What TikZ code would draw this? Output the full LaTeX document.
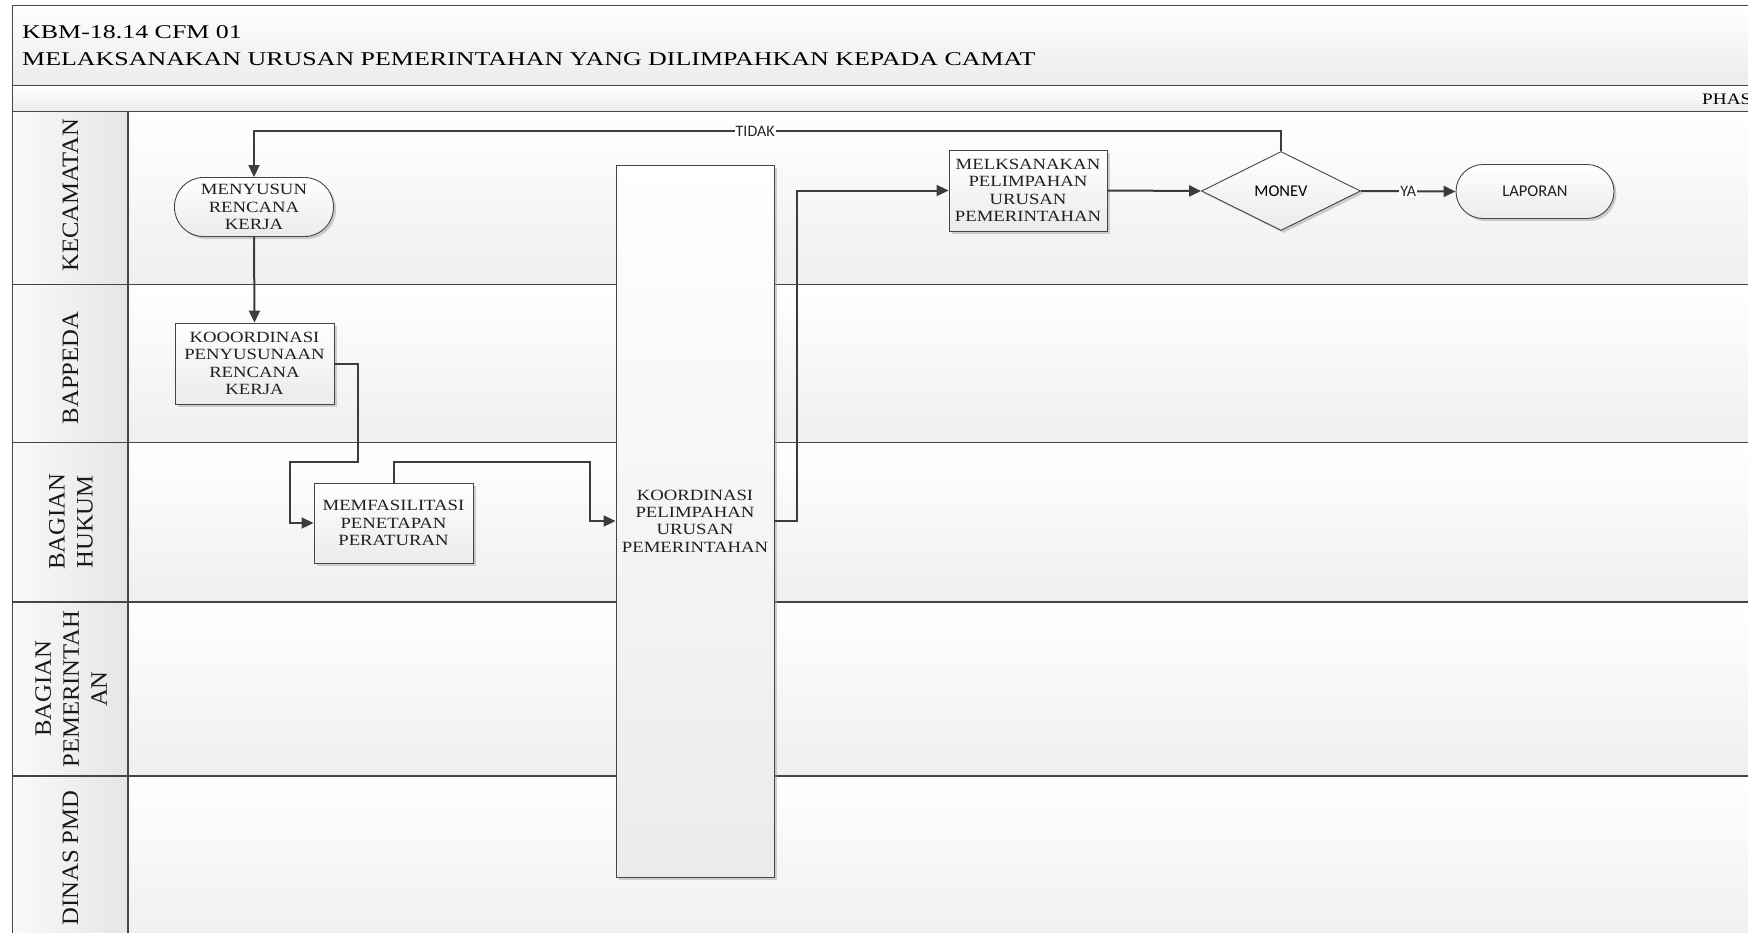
\documentclass[tikz,border=0pt]{standalone}
\usepackage{fontspec}
\setmainfont{Liberation Serif}
\newfontfamily\titlefont{Liberation Serif}[FakeStretch=1.33]
\newfontfamily\boxfont{Liberation Serif}[FakeStretch=1.2]
\newfontfamily\lanefont{Liberation Serif}[FakeStretch=1.05]
\newfontfamily\sansfont{Carlito}
\usetikzlibrary{shapes.geometric,arrows.meta,shadows}
\definecolor{edge}{HTML}{454545}
\definecolor{linec}{HTML}{3C3C3C}
\definecolor{shadeb}{HTML}{EBEBEB}
\definecolor{cellc}{HTML}{F1F1F1}
\begin{document}
\begin{tikzpicture}[x=1pt,y=-1pt,
  bar/.style={top color=white, bottom color=shadeb, draw=edge, line width=1.3pt},
  lane/.style={top color=white, bottom color=shadeb!80!white, draw=edge, line width=1.3pt},
  cell/.style={left color=white!60!cellc, right color=cellc!90!gray, draw=edge, line width=1.3pt},
  lanelbl/.style={rotate=90, align=center, inner sep=0pt, text=black!90, font=\lanefont\fontsize{23.5}{28}\selectfont},
  titletxt/.style={anchor=base west, inner sep=0pt, font=\titlefont\fontsize{19.5}{21}\selectfont},
  proc/.style={draw=edge, line width=0.9pt, top color=white, bottom color=shadeb,
    minimum width=159pt, minimum height=81pt, inner sep=0pt, align=center,
    font=\boxfont\fontsize{15.6}{17.4}\selectfont, text=black!88,
    drop shadow={shadow xshift=2.5pt, shadow yshift=-2.5pt, fill=black!40, opacity=0.45}},
  term/.style={proc, rounded corners=27pt},
  decis/.style={diamond, shape aspect=2, draw=edge, line width=0.9pt, top color=white, bottom color=shadeb,
    minimum width=159pt, minimum height=79pt, inner sep=0pt,
    font=\sansfont\fontsize{16.5}{18}\selectfont,
    drop shadow={shadow xshift=2.5pt, shadow yshift=-2.5pt, fill=black!40, opacity=0.45}},
  arr/.style={draw=linec, line width=2pt, -{Triangle[length=12pt,width=11pt]}},
  lbl/.style={fill=white, inner sep=1pt, font=\sansfont\fontsize{16}{18}\selectfont, text=black!85}
]
\useasboundingbox (0,0) rectangle (1748,932);
\clip (0,0) rectangle (1748,932);

% title and phase bars
\path[bar] (12.3,5.6) rectangle (1770,85.8);
\path[bar] (12.3,85.8) rectangle (1770,111.5);
\node[titletxt] (t1) at (22,38.3) {KBM-18.14 CFM 01};
\node[titletxt] (t2) at (22,65) {MELAKSANAKAN URUSAN PEMERINTAHAN YANG DILIMPAHKAN KEPADA CAMAT};
\node[anchor=base west, inner sep=0pt, font=\boxfont\fontsize{16}{18}\selectfont] (ph) at (1702,104) {PHASE};

% lanes
\path[lane] (128,111.5) rectangle (1770,284.3);
\path[lane] (128,284.3) rectangle (1770,442.6);
\path[lane] (128,442.6) rectangle (1770,602);
\path[lane] (128,602) rectangle (1770,775.9);
\path[lane] (128,775.9) rectangle (1770,945);
\path[cell] (12.3,111.5) rectangle (128,284.3);
\path[cell] (12.3,284.3) rectangle (128,442.6);
\path[cell] (12.3,442.6) rectangle (128,602);
\path[cell] (12.3,602) rectangle (128,775.9);
\path[cell] (12.3,775.9) rectangle (128,945);

\node[lanelbl] (l1) at (70.5,195) {KECAMATAN};
\node[lanelbl] (l2) at (70.5,368) {BAPPEDA};
\node[lanelbl] (l3) at (71,522) {BAGIAN\\HUKUM};
\node[lanelbl] (l4) at (71,689) {BAGIAN\\PEMERINTAH\\AN};
\node[lanelbl] (l5) at (70.5,858) {DINAS PMD};

% nodes
\node[term, minimum height=59pt, rounded corners=29pt] (n1) at (254,207) {MENYUSUN\\RENCANA\\KERJA};
\node[proc] (n2) at (254.5,363.5) {KOOORDINASI\\PENYUSUNAAN\\RENCANA\\KERJA};
\node[proc, minimum height=80pt] (n3) at (393.5,523) {MEMFASILITASI\\PENETAPAN\\PERATURAN};
\node[proc, minimum width=158pt, minimum height=712pt] (n4) at (695,521) {KOORDINASI\\PELIMPAHAN\\URUSAN\\PEMERINTAHAN};
\node[proc, minimum width=158pt] (n5) at (1028,190.5) {MELKSANAKAN\\PELIMPAHAN\\URUSAN\\PEMERINTAHAN};
\node[decis] (n6) at (1281,191) {MONEV};
\node[term, minimum width=158pt, minimum height=54pt, font=\sansfont\fontsize{16.5}{18}\selectfont] (n7) at (1535,191.5) {LAPORAN};

% connectors
\coordinate (c1) at (358,462);
\coordinate (c2) at (290,462);
\coordinate (c3) at (590,462);
\draw[arr] (n1.south) -- (n2.north);
\draw[arr] (n2.east) -| (c1) -- (c2) |- (n3.west);
\draw[arr] (n3.north) |- (c3) |- (n4.west);
\draw[arr] (n4.east) -- ++(23,0) |- (n5.west);
\draw[arr] (n5.east) -- (n6.west);
\draw[arr] (n6.east) -- node[lbl]{YA} (n7.west);
\draw[arr] (n6.north) -- ++(0,-20) -| node[lbl, pos=0.256]{TIDAK} (n1.north);
\end{tikzpicture}
\end{document}
